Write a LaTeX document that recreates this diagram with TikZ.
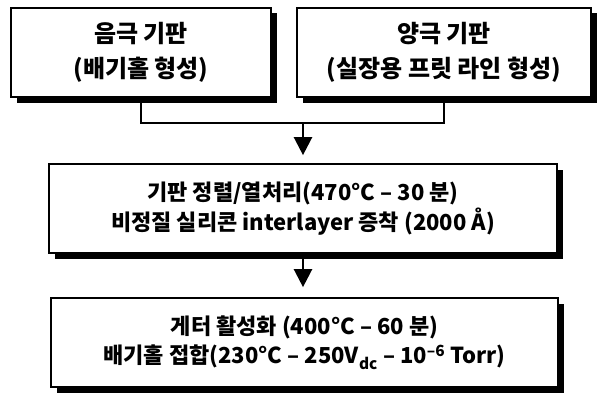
\documentclass[tikz,border=0pt]{standalone}
\usepackage{fontspec}
\setmainfont{Noto Sans CJK KR}
\usetikzlibrary{shadows,arrows.meta}
\begin{document}
\begin{tikzpicture}[x=1pt,y=1pt]
\useasboundingbox[fill=white] (0,0) rectangle (603,392);
\tikzset{
  stepbox/.style={draw=black, line width=1.7pt, fill=white, align=center, inner sep=0pt,
    drop shadow={shadow xshift=5.5pt, shadow yshift=-5.5pt, opacity=1, fill=black}},
  topfont/.style={font=\fontsize{24}{35}\selectfont\bfseries},
  lowfont/.style={font=\fontsize{22}{29.5}\selectfont\bfseries},
  link/.style={line width=2.4pt},
  arr/.style={link, -{Triangle[length=18pt,width=18pt]}}
}
\node[stepbox, topfont, minimum width=260pt, minimum height=89pt] (n1) at (141,339.5)
  {음극 기판\\(배기홀 형성)};
\node[stepbox, topfont, minimum width=294pt, minimum height=89pt] (n2) at (444,339.5)
  {양극 기판\\(실장용 프릿 라인 형성)};
\node[stepbox, lowfont, minimum width=508pt, minimum height=89pt] (n3) at (303,183.5)
  {기판 정렬/열처리(470°C – 30 분)\\비정질 실리콘 interlayer 증착 (2000 Å)};
\node[stepbox, lowfont, minimum width=507pt, minimum height=89pt] (n4) at (304.5,49.5)
  {게터 활성화 (400°C – 60 분)\\배기홀 접합(230°C – 250V\textsubscript{dc} – 10\textsuperscript{–6} Torr)};
\coordinate (j) at (303,269);
\draw[link] (n1.south) |- (j) -| (n2.south);
\draw[arr, shorten >=8pt] (j) -- (j |- n3.north);
\draw[arr, shorten >=10pt] (n3.south) -- (n3.south |- n4.north);
\end{tikzpicture}
\end{document}
